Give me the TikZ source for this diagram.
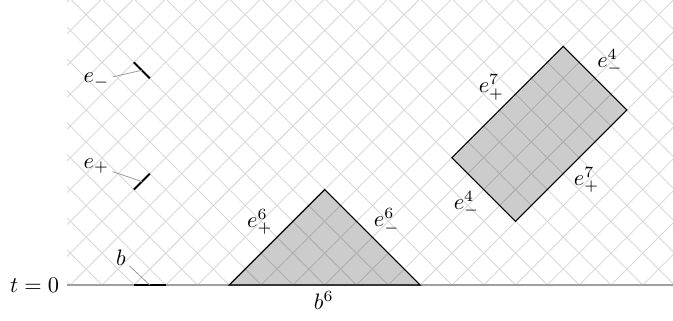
\documentclass[tikz,border=0pt]{standalone}
\begin{document}
\begin{tikzpicture}[x=0.5cm,y=0.5cm,
  gridline/.style={gray!30, line width=0.4pt},
  regionfill/.style={fill=black, fill opacity=0.2},
  regionedge/.style={draw=black, line width=0.5pt, line join=miter},
  seg/.style={black, line width=0.9pt},
  bseg/.style={black, line width=1.3pt},
  baseline/.style={gray!75, line width=0.9pt},
  pinline/.style={gray!80, line width=0.35pt},
  lbl/.style={inner sep=1.5pt}]
\useasboundingbox (-4.21,-1.13) rectangle (16.95,8.96);
% grid of light cones
\begin{scope}
  \clip (-2.1,0) rectangle (16.95,8.96);
  \foreach \k in {-14,...,28} {
    \draw[gridline] (\k,0) -- ++(10,10);
    \draw[gridline] (\k,0) -- ++(-10,10);
  }
\end{scope}
% coordinates
\coordinate (L) at (-2.1,0);
\coordinate (R) at (16.95,0);
\coordinate (T1) at (3,0);
\coordinate (T2) at (6,3);
\coordinate (T3) at (9,0);
\coordinate (Q1) at (10,4);
\coordinate (Q2) at (12,2);
\coordinate (Q3) at (15.5,5.5);
\coordinate (Q4) at (13.5,7.5);
% shaded regions
\fill[regionfill] (T1) -- (T2) -- (T3) -- cycle;
\fill[regionfill] (Q1) -- (Q2) -- (Q3) -- (Q4) -- cycle;
% time axis
\draw[baseline] (L) -- (R);
\node[left] (t0) at (L) {$t=0$};
% outlines
\draw[regionedge] (T1) -- (T2) -- (T3) -- cycle;
\draw[regionedge] (Q1) -- (Q2) -- (Q3) -- (Q4) -- cycle;
% region labels
\node[lbl] (ep6) at (3.96,1.98) {$e^6_+$};
\node[lbl] (em6) at (7.95,2.0) {$e^6_-$};
\node[lbl] (b6) at (5.97,-0.5) {$b^6$};
\node[lbl] (ep7a) at (11.24,6.21) {$e^7_+$};
\node[lbl] (em4a) at (14.97,7.01) {$e^4_-$};
\node[lbl] (ep7b) at (14.23,3.30) {$e^7_+$};
\node[lbl] (em4b) at (10.46,2.55) {$e^4_-$};
% small segments
\coordinate (B0) at (0,0);
\coordinate (B1) at (1,0);
\coordinate (BM) at (0.5,0);
\draw[bseg] (B0) -- (B1);
\coordinate (EM0) at (0,7);
\coordinate (EM1) at (0.5,6.5);
\coordinate (EMM) at (0.25,6.75);
\draw[seg] (EM0) -- (EM1);
\coordinate (EP0) at (0,3);
\coordinate (EP1) at (0.5,3.5);
\coordinate (EPM) at (0.25,3.25);
\draw[seg] (EP0) -- (EP1);
% labels with pin lines
\node[lbl] (lb) at (-0.41,0.85) {$b$};
\node[lbl] (lem) at (-1.18,6.43) {$e_-$};
\node[lbl] (lep) at (-1.18,3.74) {$e_+$};
\draw[pinline] (lb) -- (BM);
\draw[pinline] (lem) -- (EMM);
\draw[pinline] (lep) -- (EPM);
\end{tikzpicture}
\end{document}
